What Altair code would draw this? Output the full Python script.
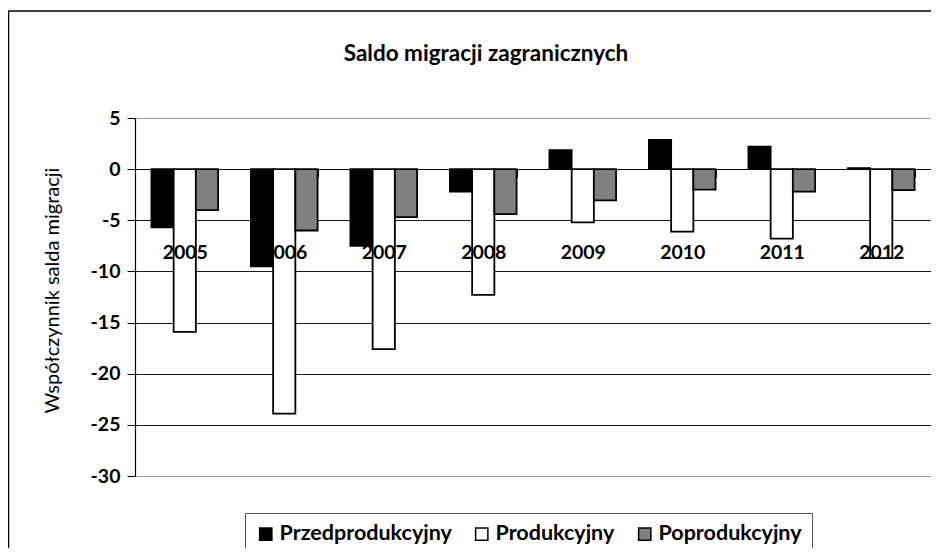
import altair as alt
import pandas as pd

years = ["2005", "2006", "2007", "2008", "2009", "2010", "2011", "2012"]
groups = ["Przedprodukcyjny", "Produkcyjny", "Poprodukcyjny"]
przed = [-5.7, -9.5, -7.5, -2.2, 1.85, 2.85, 2.2, 0.1]
prod = [-15.9, -23.9, -17.6, -12.3, -5.2, -6.1, -6.8, -8.7]
popr = [-4.0, -6.0, -4.7, -4.4, -3.05, -2.0, -2.2, -2.05]
y_ticks = [5, 0, -5, -10, -15, -20, -25, -30]
colors = ["#000000", "#ffffff", "#808080"]

rows = []
for i, y in enumerate(years):
    for g, vals in zip(groups, [przed, prod, popr]):
        rows.append({"rok": y, "grupa": g, "wartosc": vals[i]})
df = pd.DataFrame(rows)

FONT = "Lato"

bars = alt.Chart(df).mark_bar(stroke="black", strokeWidth=1.8).encode(
    x=alt.X(
        "rok:N", sort=years,
        scale=alt.Scale(paddingInner=0.33, paddingOuter=0.165),
        axis=alt.Axis(
            title=None, orient="bottom", offset=-307, labelAngle=0,
            domain=True, domainColor="black", domainWidth=1,
            ticks=True, tickBand="extent", tickSize=8, tickColor="black",
            labelPadding=66, labelFont=FONT, labelFontSize=19.5,
            labelFontWeight="bold", labelColor="black", zindex=1,
        ),
    ),
    xOffset=alt.XOffset("grupa:N", sort=groups,
                        scale=alt.Scale(paddingInner=0, paddingOuter=0)),
    y=alt.Y(
        "wartosc:Q", stack=None,
        scale=alt.Scale(domain=[-30, 5], nice=False, zero=False),
        axis=alt.Axis(
            values=y_ticks, title="Współczynnik salda migracji",
            labelExpr="'' + datum.value",
            grid=True,
            gridColor={"condition": {"test": "datum.value === 5 || datum.value === -30", "value": "#999999"}, "value": "#1a1a1a"},
            gridWidth=1.2,
            domain=True, domainColor="black", domainWidth=1.2,
            tickSize=8, tickColor="black",
            labelFont=FONT, labelFontSize=19.5, labelFontWeight="bold",
            labelColor="black", labelPadding=7,
            titleFont=FONT, titleFontSize=20, titleFontWeight="normal",
            titleColor="black", titleAngle=270, titleX=-83, titleY=172,
            titleAlign="center", titleBaseline="middle",
        ),
    ),
    color=alt.Color(
        "grupa:N", sort=groups,
        scale=alt.Scale(domain=groups, range=colors),
        legend=alt.Legend(
            title=None, orient="none", legendX=110, legendY=395,
            direction="horizontal", strokeColor="#555555", fillColor="white",
            padding=10, symbolType="square", symbolSize=150,
            symbolStrokeColor="black", symbolStrokeWidth=1.5,
            labelOffset=3,
            labelFont=FONT, labelFontSize=21.5, labelFontWeight="bold",
            labelColor="black", columnPadding=19, labelLimit=0,
        ),
    ),
)

frame_df = pd.DataFrame({"a": [0]})
frame_top = alt.Chart(frame_df).mark_rule(color="black", strokeWidth=1.5).encode(
    x=alt.value(-126.5), x2=alt.value(800), y=alt.value(-107)
)
frame_left = alt.Chart(frame_df).mark_rule(color="black", strokeWidth=1.5).encode(
    x=alt.value(-126.5), y=alt.value(-107), y2=alt.value(440)
)

chart = alt.layer(bars, frame_top, frame_left).properties(
    width=796, height=358,
    autosize=alt.AutoSizeParams(type="none"),
    padding={"left": 127, "top": 110, "right": 0, "bottom": 72},
    title=alt.TitleParams(
        "Saldo migracji zagranicznych", font=FONT, fontSize=22.5,
        fontWeight="bold", color="black", anchor="middle", frame="group",
        offset=-55, dx=-47,
    ),
).configure_view(stroke="#999999", strokeWidth=1.5).configure(background="white")

chart.save("out.html", embed_options={"renderer": "svg", "actions": False})
